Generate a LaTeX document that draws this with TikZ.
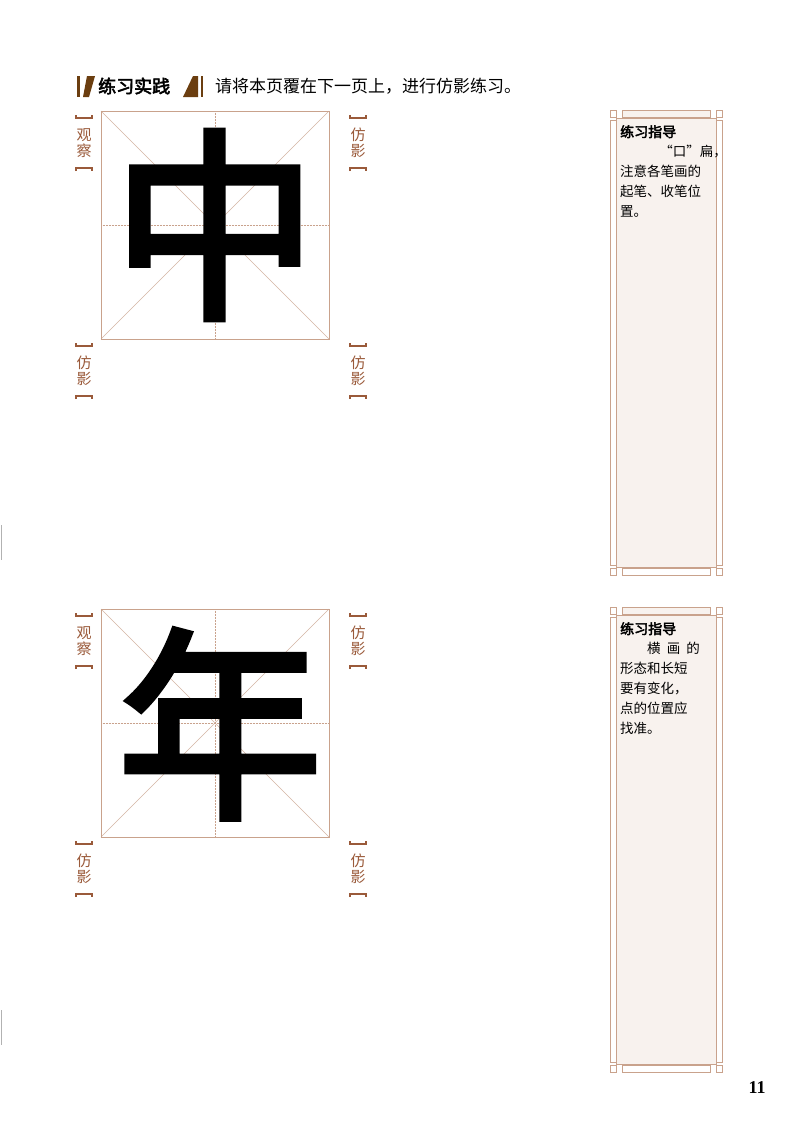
\documentclass[tikz,border=0pt]{standalone}
\usepackage{fontspec}
\newfontfamily\cjk{Noto Sans CJK SC}
\newfontfamily\cjkb[FakeBold=3]{Noto Sans CJK SC}
\newfontfamily\cjkc[FakeBold=3]{Noto Sans CJK SC}
\setmainfont{Liberation Serif}
\definecolor{dbrown}{HTML}{6B3E10}
\definecolor{lbrown}{HTML}{C9A28C}
\definecolor{lab}{HTML}{9A5A3A}
\definecolor{cream}{HTML}{F8F2EE}
\begin{document}
\begin{tikzpicture}[x=1pt,y=-1pt,
 gridline/.style={draw=lbrown,line width=0.7pt},
 guide/.style={draw=lbrown,line width=0.5pt,densely dotted},
 diag/.style={draw=lbrown!80,line width=0.4pt},
 lbl/.style={text=lab,font=\cjk\fontsize{15}{16}\selectfont,align=center,inner sep=0pt},
 brk/.style={draw=lab,line width=1.5pt},
 body/.style={font=\cjk\fontsize{13.5}{20}\selectfont,anchor=north west,inner sep=0pt,align=left},
 panel/.style={draw=lbrown,line width=0.7pt}]
\useasboundingbox (0,0) rectangle (800,1124);
% header
\fill[dbrown] (77,76) rectangle (80,97);
\fill[dbrown] (83,97) -- (87,76) -- (95,76) -- (89,97) -- cycle;
\fill[dbrown] (183,97) -- (193,76) -- (198,76) -- (198,97) -- cycle;
\fill[dbrown] (201,76) rectangle (203,97);
\node[anchor=west,inner sep=0pt,font=\cjkb\fontsize{18}{18}\selectfont] (h1) at (98,86) {练习实践};
\node[anchor=west,inner sep=0pt,font=\cjk\fontsize{17}{17}\selectfont] (h2) at (215,86) {请将本页覆在下一页上，进行仿影练习。};
% grids
\foreach \y/\ch/\cx/\cy in {111/中/215/225, 609/年/220/724}{
 \fill[white] (101,\y) rectangle (329,\y+228);
 \draw[diag] (101,\y) -- (329,\y+228) (329,\y) -- (101,\y+228);
 \draw[guide] (215,\y) -- (215,\y+228) (101,\y+114) -- (329,\y+114);
 \node[inner sep=0pt,font=\cjkc\fontsize{205}{205}\selectfont] at (\cx,\cy) {\ch};
 \draw[gridline] (101,\y) rectangle (329,\y+228);
 \foreach \lx/\ly/\tx in {84/\y+32/{观\\察},358/\y+32/{仿\\影},84/\y+260/{仿\\影},358/\y+260/{仿\\影}}{
  \node[lbl] at (\lx,\ly) {\tx};
  \draw[brk] (\lx-8,\ly-28) -- (\lx-8,\ly-25) -- (\lx+8,\ly-25) -- (\lx+8,\ly-28);
  \draw[brk] (\lx-8,\ly+28) -- (\lx-8,\ly+25) -- (\lx+8,\ly+25) -- (\lx+8,\ly+28);
 }
}
% panels
\foreach \y/\t in {110/{\hspace*{2.9em}“口”扁，\\注意各笔画的\\起笔、收笔位\\置。},607/{\hspace*{2em}横\hspace{0.45em}画\hspace{0.45em}的\\形态和长短\\要有变化，\\点的位置应\\找准。}}{
 \draw[panel] (610,\y+10) rectangle (722,\y+455);
 \draw[panel,fill=cream] (616,\y+8) rectangle (716,\y+457);
 \draw[panel,fill=cream] (622,\y) rectangle (710,\y+7);
 \draw[panel] (610,\y) rectangle (616,\y+7) (716,\y) rectangle (722,\y+7);
 \draw[panel] (622,\y+458) rectangle (710,\y+465);
 \draw[panel] (610,\y+458) rectangle (616,\y+465) (716,\y+458) rectangle (722,\y+465);
 \node[anchor=north west,inner sep=0pt,font=\cjkb\fontsize{14}{14}\selectfont] at (620,\y+15) {练习指导};
 \node[body] at (620,\y+35) {\t};
}
\node[font=\bfseries\fontsize{18}{18}\selectfont,inner sep=0pt] (pn) at (757,1088) {11};
\draw[gray!60,line width=0.6pt] (1,525) -- (1,560) (1,1010) -- (1,1045);
\end{tikzpicture}
\end{document}
